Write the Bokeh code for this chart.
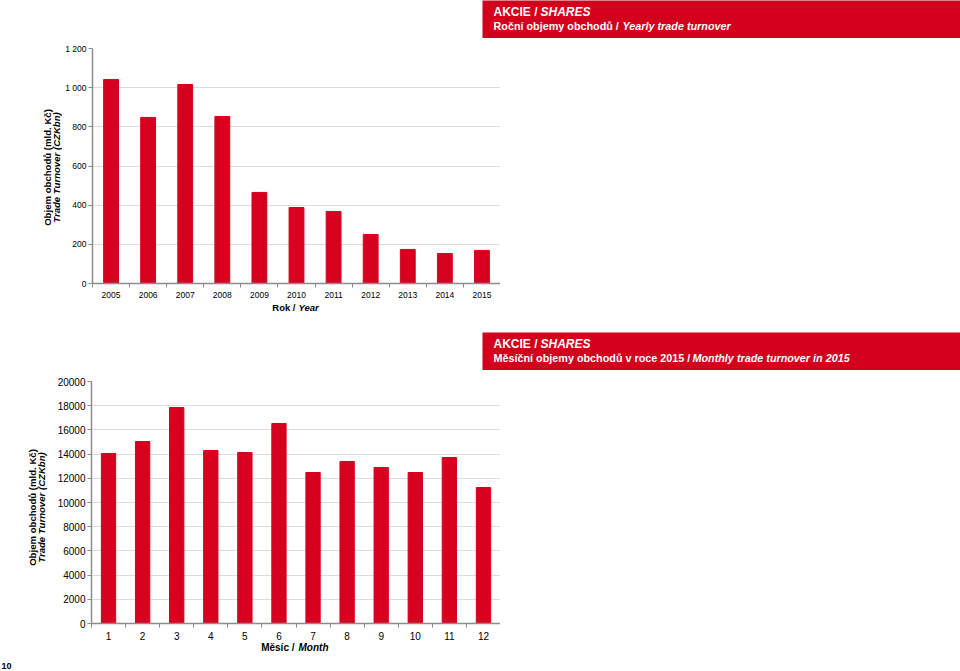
from bokeh.plotting import figure
from bokeh.models import FixedTicker, Label, Range1d
from bokeh.layouts import column, row
from bokeh.embed import file_html
from bokeh.resources import INLINE

years = ["2005", "2006", "2007", "2008", "2009", "2010", "2011", "2012", "2013", "2014", "2015"]
yearly_turnover = [1042, 848, 1016, 853, 465, 388, 368, 250, 174, 153, 169]
y1_ticks = [0, 200, 400, 600, 800, 1000, 1200]
y1_labels = ["0", "200", "400", "600", "800", "1 000", "1 200"]

months = ["1", "2", "3", "4", "5", "6", "7", "8", "9", "10", "11", "12"]
monthly_turnover = [14050, 15040, 17850, 14300, 14130, 16530, 12480, 13390, 12890, 12480, 13720, 11240]
y2_ticks = [0, 2000, 4000, 6000, 8000, 10000, 12000, 14000, 16000, 18000, 20000]
y2_labels = [str(t) for t in y2_ticks]

RED = "#D2001C"
BAR = "#D7001E"
FONT = "Liberation Sans"
AXIS = "#8C8C8C"


def lab(p, x, y, text, size, style="bold", color="#000000", align="left", angle=0, baseline="middle"):
    p.add_layout(Label(x=x, y=y, x_units="screen", y_units="screen", text=text,
                       text_font=FONT, text_font_size=size, text_font_style=style,
                       text_color=color, text_align=align, text_baseline=baseline, angle=angle))


def blank(w, h, bg="white", styles=None):
    f = figure(width=w, height=h, output_backend="svg", toolbar_location=None,
               x_axis_type=None, y_axis_type=None, x_range=Range1d(0, 1), y_range=Range1d(0, 1),
               min_border=0, min_border_left=0, min_border_right=0, min_border_top=0, min_border_bottom=0)
    f.outline_line_color = None
    f.background_fill_color = bg
    f.border_fill_color = bg
    if styles:
        f.styles = styles
    return f


def chart(cats, vals, yticks, ylabels, width, height, bleft, btop, bbot, bar_w, tick_size):
    n = len(cats)
    xs = list(range(1, n + 1))
    p = figure(width=width, height=height, output_backend="svg", toolbar_location=None,
               x_range=Range1d(0.5, n + 0.5), y_range=Range1d(yticks[0], yticks[-1]),
               min_border_left=bleft, min_border_right=0, min_border_top=btop, min_border_bottom=bbot)
    p.outline_line_color = None
    p.xgrid.visible = False
    p.ygrid.grid_line_color = "#DCDCDC"
    p.vbar(x=xs, top=vals, width=bar_w, color=BAR)

    p.xaxis.ticker = FixedTicker(ticks=xs, minor_ticks=[x + 0.5 for x in [0] + xs])
    p.xaxis.major_label_overrides = {x: c for x, c in zip(xs, cats)}
    p.yaxis.ticker = FixedTicker(ticks=yticks)
    p.yaxis.major_label_overrides = {t: l for t, l in zip(yticks, ylabels)}
    for ax in (p.xaxis, p.yaxis):
        ax.axis_line_color = AXIS
        ax.axis_line_width = 1.5
        ax.major_tick_line_color = AXIS
        ax.minor_tick_line_color = AXIS
        ax.major_label_text_font = FONT
        ax.major_label_text_font_size = tick_size
        ax.major_label_text_color = "#000000"
    p.xaxis.major_tick_out = 0
    p.xaxis.major_tick_in = 0
    p.xaxis.minor_tick_out = 4
    p.xaxis.minor_tick_in = 0
    p.xaxis.major_label_standoff = 4
    p.yaxis.major_tick_out = 4
    p.yaxis.major_tick_in = 0
    p.yaxis.minor_tick_out = 0
    p.yaxis.minor_tick_in = 0
    p.yaxis.major_label_standoff = 2
    return p


# ---------- top section ----------
p1 = chart(years, yearly_turnover, y1_ticks, y1_labels, 438, 302, 28, 48, 19, 0.4, "8.5px")
yl1 = blank(62, 332)
lab(yl1, 47, 165, "Objem obchodů (mld. Kč)", "9.6px", angle=1.5708, align="center")
lab(yl1, 56, 165, "Trade Turnover (CZKbn)", "9.6px", style="bold italic", angle=1.5708, align="center")
# the x-label strip shares the chart's left border (28 px) inside the column
xl1 = blank(438, 30)
lab(xl1, 203, 25, "Rok /", "9.5px", align="right")
lab(xl1, 206, 25, "Year", "9.5px", style="bold italic")
h1 = blank(478, 38, bg=RED, styles={"margin-left": "-18px"})
lab(h1, 11, 27, "AKCIE / ", "12px", color="white")
lab(h1, 58, 27, "SHARES", "12px", style="bold italic", color="white")
lab(h1, 11, 13, "Roční objemy obchodů /", "10.8px", color="white")
lab(h1, 140, 13, "Yearly trade turnover", "10.8px", style="bold italic", color="white")

# ---------- bottom section ----------
p2 = chart(months, monthly_turnover, y2_ticks, y2_labels, 446, 310, 36, 49, 19, 0.42, "10px")
yl2 = blank(54, 339)
lab(yl2, 32, 164, "Objem obchodů (mld. Kč)", "9.6px", angle=1.5708, align="center")
lab(yl2, 41, 164, "Trade Turnover (CZKbn)", "9.6px", style="bold italic", angle=1.5708, align="center")
lab(yl2, 1, 6, "10", "9px")
xl2 = blank(446, 29)
lab(xl2, 203, 24, "Měsíc /", "10px", align="right")
lab(xl2, 207, 24, "Month", "10px", style="bold italic")
h2 = blank(478, 38, bg=RED, styles={"margin-left": "-18px"})
lab(h2, 11, 27, "AKCIE / ", "12px", color="white")
lab(h2, 58, 27, "SHARES", "12px", style="bold italic", color="white")
lab(h2, 11, 13, "Měsíční objemy obchodů v roce 2015 /", "10.8px", color="white")
lab(h2, 210, 13, "Monthly trade turnover in 2015", "10.8px", style="bold italic", color="white")

top = row(yl1, column(p1, xl1, spacing=0), h1, spacing=0)
bottom = row(yl2, column(p2, xl2, spacing=0), h2, spacing=0)
layout = column(top, bottom, spacing=0)
open("out.html", "w").write(file_html(layout, INLINE))
